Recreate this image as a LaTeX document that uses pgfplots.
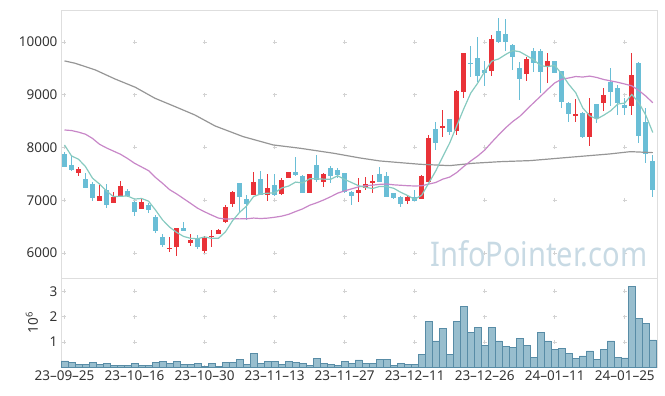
\documentclass[border=0pt]{standalone}
\usepackage{fontspec}
\setmainfont{Noto Sans}
\usepackage{pgfplots}
\usepackage{pgfplotstable}
\pgfplotsset{compat=1.18}
\definecolor{upc}{RGB}{233,50,56}
\definecolor{dnc}{RGB}{106,190,214}
\definecolor{maF}{RGB}{135,202,192}
\definecolor{maT}{RGB}{200,135,200}
\definecolor{maS}{RGB}{150,150,150}
\definecolor{volf}{RGB}{152,190,206}
\definecolor{vole}{RGB}{88,140,166}
\definecolor{framec}{RGB}{222,222,222}
\definecolor{gridc}{RGB}{210,210,210}
\definecolor{lab}{RGB}{51,51,51}
\definecolor{wm}{RGB}{200,218,228}

\pgfplotstableread{
i o h l c mf mt v
0 7877 7920 7624 7636 8047 8331 0.25
1 7668 7857 7560 7573 7839 8320 0.20
2 7511 7624 7459 7592 7776 8290 0.12
3 7403 7522 7238 7238 7636 8250 0.12
4 7308 7340 6991 7048 7417 8170 0.20
5 6991 7289 6991 7080 7306 8060 0.12
6 7194 7308 6858 6904 7172 7990 0.16
7 6942 7150 6942 7067 7067 7930 0.08
8 7086 7365 7086 7270 7074 7870 0.08
9 7175 7213 7067 7080 7080 7790 0.08
10 6972 6991 6707 6783 7021 7700 0.16
11 6828 7018 6828 6961 7032 7630 0.08
12 6910 6942 6764 6815 6982 7560 0.08
13 6676 6720 6373 6422 6812 7430 0.20
14 6309 6360 6119 6151 6626 7320 0.24
15 6070 6297 6013 6100 6490 7200 0.16
16 6108 6468 5943 6468 6391 7120 0.24
17 6474 6581 6422 6422 6313 7030 0.12
18 6195 6360 6138 6246 6277 6940 0.12
19 6290 6341 6075 6108 6269 6848 0.16
20 6037 6328 6005 6278 6304 6780 0.04
21 6303 6436 6108 6328 6276 6718 0.16
22 6354 6450 6354 6436 6279 6660 0.04
23 6593 6910 6574 6866 6403 6642 0.20
24 6928 7175 6877 7150 6612 6647 0.20
25 7321 7321 6771 7067 6769 6646 0.32
26 7023 7099 6625 6928 6889 6647 0.12
27 7099 7530 7099 7340 7070 6661 0.55
28 7397 7560 7099 7099 7117 6652 0.16
29 7099 7497 6991 7226 7132 6660 0.24
30 7289 7497 7080 7099 7138 6676 0.24
31 7112 7416 7099 7384 7230 6697 0.12
32 7427 7541 7416 7530 7268 6732 0.24
33 7530 7814 7459 7478 7343 6785 0.20
34 7465 7470 7131 7143 7327 6835 0.16
35 7143 7500 7140 7492 7405 6904 0.08
36 7668 7857 7351 7384 7405 6950 0.36
37 7351 7522 7257 7497 7399 7004 0.16
38 7605 7649 7321 7459 7395 7065 0.12
39 7573 7605 7416 7478 7462 7133 0.08
40 7511 7515 7131 7150 7394 7177 0.24
41 7162 7165 6910 7086 7334 7215 0.16
42 7143 7427 6972 7194 7273 7253 0.29
43 7226 7435 7194 7308 7243 7275 0.16
44 7332 7478 7131 7365 7221 7285 0.16
45 7497 7624 7340 7351 7261 7300 0.32
46 7465 7541 7060 7067 7257 7307 0.32
47 7143 7145 7018 7037 7226 7291 0.08
48 7067 7070 6877 6928 7150 7283 0.16
49 6985 7099 6923 7056 7088 7274 0.12
50 7067 7194 6985 6991 7016 7269 0.12
51 7018 7478 7018 7459 7094 7273 0.51
52 7351 8237 7351 8174 7322 7305 1.83
53 8350 8489 7952 8079 7552 7335 1.04
54 8375 8711 8205 8407 7822 7398 1.54
55 8540 8545 8237 8299 8084 7438 0.51
56 8318 9080 8237 9077 8407 7523 1.83
57 9058 9790 8933 9786 8730 7638 2.42
58 9608 9924 9342 9577 9029 7743 1.38
59 9691 10089 9247 9355 9219 7837 1.58
60 9469 9645 9171 9407 9440 7950 0.88
61 9456 10133 9355 10051 9635 8098 1.58
62 10214 10449 9987 10000 9678 8239 1.04
63 10152 10430 9835 10000 9763 8373 0.84
64 9949 9955 9469 9721 9836 8491 0.80
65 9501 9615 8900 9298 9814 8588 1.15
66 9388 9721 9261 9678 9739 8719 0.88
67 9829 9881 9437 9608 9661 8848 0.40
68 9829 9862 9039 9437 9548 8973 1.38
69 9545 9786 9228 9640 9532 9102 1.04
70 9640 9645 9406 9406 9554 9223 0.72
71 9450 9455 8743 8868 9392 9293 0.75
72 8849 8855 8489 8629 9196 9316 0.55
73 8603 8914 8489 8635 9036 9344 0.36
74 8660 8665 8186 8205 8749 9334 0.45
75 8205 8933 8034 8660 8599 9352 0.65
76 8824 8830 8459 8560 8538 9326 0.32
77 8849 9122 8692 8995 8611 9287 0.69
78 9247 9501 8780 9058 8696 9261 1.04
79 9134 9185 8616 8838 8822 9235 0.40
80 8806 8933 8616 8754 8841 9202 0.37
81 8787 9786 8616 9374 9004 9168 3.21
82 9608 9615 8080 8218 8848 9079 1.94
83 8489 8750 7712 7877 8612 8973 1.74
84 7744 7857 7067 7194 8283 8847 1.08
}\data

\begin{document}
\begin{tikzpicture}
\useasboundingbox (0,0) rectangle (665pt,396pt);
\pgfplotsset{
  base/.style={scale only axis, width=596pt, xmin=-0.5, xmax=84.6,
    xtick={0,10,...,80}, major tick length=0pt,
    scaled y ticks=false, scaled x ticks=false,
    axis line style={framec, line width=0.8pt},
    tick label style={font=\fontsize{13.5}{16}\selectfont, color=lab},
    grid=major},
  cand/.style 2 args={draw=none, mark=none, forget plot,
    error bars/.cd, y dir=both, y explicit, error mark=none,
    error bar style={draw=#1, line width=#2}},
}
\begin{axis}[base, at={(61pt,118pt)}, anchor=south west, height=268pt,
  ymin=5525, ymax=10605,
  ytick={6000,7000,8000,9000,10000},
  yticklabels={6000,7000,8000,9000,10000},
  xticklabels={},
  x grid style={gridc, line width=0.6pt, dash pattern=on 4pt off 48.756pt, dash phase=29.696pt},
  y grid style={gridc, line width=0.6pt, dash pattern=on 4pt off 66.035pt, dash phase=68.535pt}]
% wicks
\addplot[cand={upc}{1pt}]
  table[x=i, y expr={\thisrow{c}>=\thisrow{o} ? (\thisrow{h}+\thisrow{l})/2 : nan},
        y error expr={(\thisrow{h}-\thisrow{l})/2}] {\data};
\addplot[cand={dnc}{1pt}]
  table[x=i, y expr={\thisrow{c}<\thisrow{o} ? (\thisrow{h}+\thisrow{l})/2 : nan},
        y error expr={(\thisrow{h}-\thisrow{l})/2}] {\data};
% bodies
\addplot[cand={upc}{5.3pt}]
  table[x=i, y expr={\thisrow{c}>=\thisrow{o} ? (\thisrow{o}+\thisrow{c})/2 : nan},
        y error expr={abs(\thisrow{c}-\thisrow{o})/2}] {\data};
\addplot[cand={dnc}{5.3pt}]
  table[x=i, y expr={\thisrow{c}<\thisrow{o} ? (\thisrow{o}+\thisrow{c})/2 : nan},
        y error expr={abs(\thisrow{c}-\thisrow{o})/2}] {\data};
% moving averages
\addplot[maS, line width=1.2pt, mark=none] coordinates {
(0,9640) (1.5,9596) (4.4,9469) (7.2,9298) (10.1,9141) (12.9,8933) (15.8,8773)
(18.6,8616) (21.5,8407) (25.5,8205) (29.8,8047) (33.6,7985) (38.4,7890)
(42.2,7800) (45,7744) (50.7,7681) (55,7655) (58.4,7700) (62.2,7730)
(66.5,7750) (72.2,7814) (77.9,7877) (80.8,7920) (84,7901)};
\addplot[maT, line width=1.2pt, mark=none] table[x=i, y=mt] {\data};
\addplot[maF, line width=1.2pt, mark=none] table[x=i, y=mf] {\data};
\end{axis}
\node[anchor=base west, inner sep=0pt, text=wm] at (430pt,129pt)
  {\resizebox{217pt}{26pt}{\fontsize{30}{30}\selectfont InfoPointer.com}};
\begin{axis}[base, at={(61pt,28.7pt)}, anchor=south west, height=89.3pt,
  ymin=0, ymax=3.53, ytick={1,2,3}, yticklabels={1,2,3},
  xticklabels={23--09--25,23--10--16,23--10--30,23--11--13,23--11--27,23--12--11,23--12--26,24--01--11,24--01--25},
  ylabel={10\textsuperscript{6}},
  every axis y label/.style={at={(axis description cs:-0.0487,0.5)}, anchor=center, rotate=90,
    font=\fontsize{13.5}{16}\selectfont, color=lab},
  x grid style={gridc, line width=0.6pt, dash pattern=on 4pt off 21.297pt, dash phase=2pt},
  y grid style={gridc, line width=0.6pt, dash pattern=on 4pt off 66.035pt, dash phase=68.535pt}]
\addplot[ybar, bar width=7pt, fill=volf, draw=vole, line width=0.7pt] table[x=i, y=v] {\data};
\end{axis}
\end{tikzpicture}
\end{document}
